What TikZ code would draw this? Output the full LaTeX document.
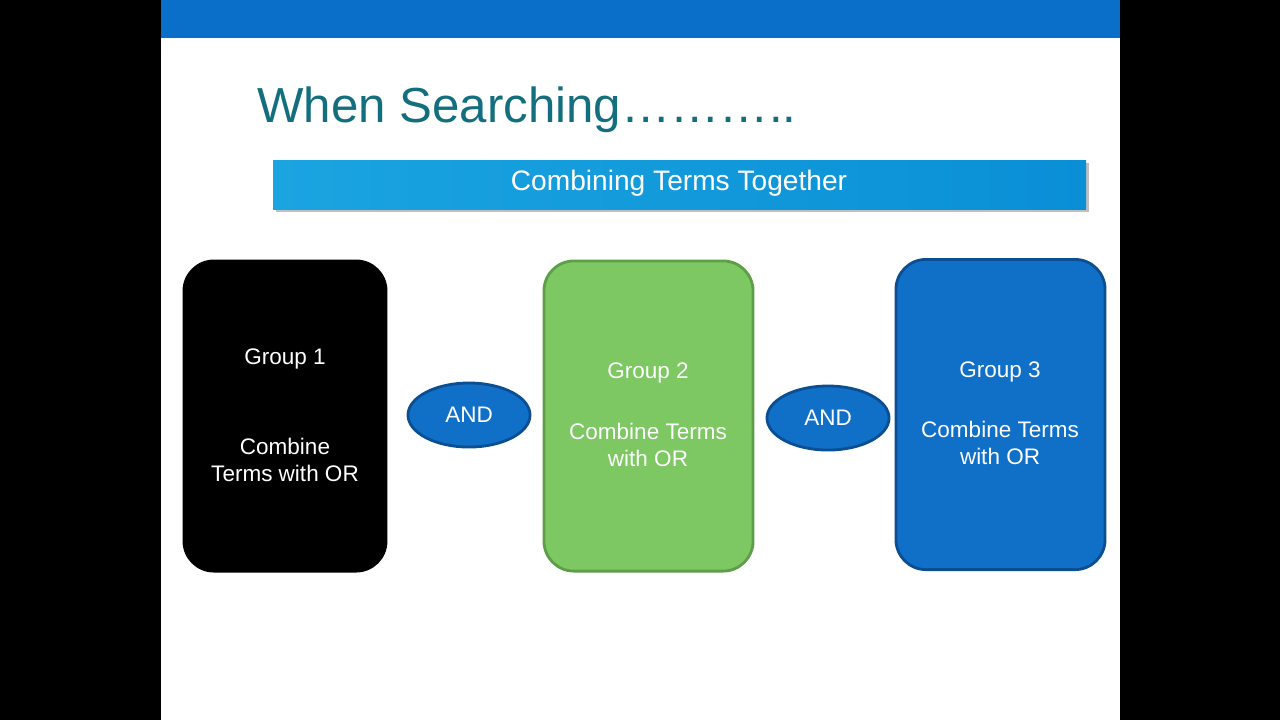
\documentclass[tikz,border=0pt]{standalone}
\usepackage{fontspec}
\setmainfont{Liberation Sans}
\usetikzlibrary{shapes.geometric, positioning}
\definecolor{topbar}{HTML}{0A6FC8}
\definecolor{titleteal}{HTML}{136E7E}
\definecolor{grpgreen}{HTML}{7DC862}
\definecolor{grpgreenline}{HTML}{5E9E48}
\definecolor{grpblue}{HTML}{1070C8}
\definecolor{grpblueline}{HTML}{0B4F92}
\definecolor{bannerA}{HTML}{1AA4E0}
\definecolor{bannerB}{HTML}{0A8FD6}

\begin{document}
\begin{tikzpicture}[x=0.01cm, y=-0.01cm,
			group/.style={draw, rounded corners=0.3cm, line width=0.8pt,
				minimum width=2.02cm, minimum height=3.1cm},
			grouptext/.style={text=white, font=\fontsize{6.4}{7.8}\selectfont, align=center},
			andop/.style={ellipse, draw=grpblueline, fill=grpblue, line width=0.8pt,
				minimum width=1.22cm, minimum height=0.64cm, text=white,
				font=\fontsize{6.4}{7.8}\selectfont}]

			% slide background
			\fill[black] (0,0) rectangle (1280,720);
			\fill[white] (161,0) rectangle (1120,720);
			\fill[topbar] (161,0) rectangle (1120,38);

			\node[anchor=west, text=titleteal, font=\fontsize{14}{16}\selectfont]
				at (245,110) (title){When Searching\dots\dots\dots..};

			% banner
			\fill[gray!50] (276,163) rectangle (1089,212);
			\shade[left color=bannerA, right color=bannerB] (273,160) rectangle (1086,209);
			\node[text=white, font=\fontsize{8}{9}\selectfont] at (679,183) (banner){Combining Terms Together};

			% groups
			\node[group, draw=black, fill=black] at (285,416) (G1){};
			\node[group, draw=grpgreenline, fill=grpgreen, minimum width=2.09cm] at (648.5,416) (G2){};
			\node[group, draw=grpblueline, fill=grpblue, minimum width=2.09cm] at (1000.5,414.5) (G3){};

			\node[grouptext] at (285,359) (G1a){Group 1};
			\node[grouptext] at (285,460) (G1b){Combine\\Terms with OR};
			\node[grouptext] at (648,373) (G2a){Group 2};
			\node[grouptext] at (648,445) (G2b){Combine Terms\\with OR};
			\node[grouptext] at (1000,372) (G3a){Group 3};
			\node[grouptext] at (1000,443) (G3b){Combine Terms\\with OR};

			% operators
			\node[andop] at (469,415) (A1){AND};
			\node[andop] at (828,418) (A2){AND};
		\end{tikzpicture}
\end{document}
